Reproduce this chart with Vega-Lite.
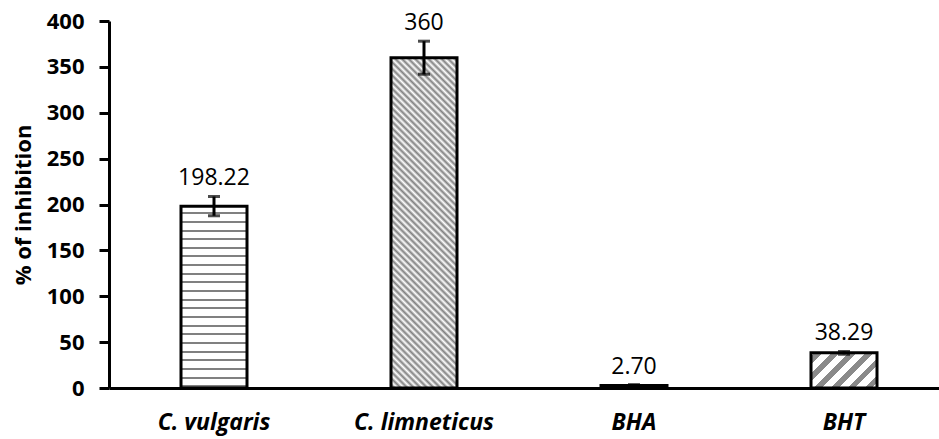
{
  "$schema": "https://vega.github.io/schema/vega-lite/v6.json",
  "width": 830,
  "height": 367,
  "autosize": {"type": "none"},
  "padding": {"left": 109, "top": 21, "right": 0, "bottom": 51},
  "background": "white",
  "config": {"view": {"stroke": null}},
  "data": {
    "values": [
      {"cat": "C. vulgaris", "value": 198.22, "err": 10.5, "hi": 208.72, "label": "198.22"},
      {"cat": "C. limneticus", "value": 360, "err": 18, "hi": 378, "label": "360"},
      {"cat": "BHA", "value": 2.7, "err": 1, "hi": 3.7, "label": "2.70"},
      {"cat": "BHT", "value": 38.29, "err": 1.5, "hi": 39.79, "label": "38.29"}
    ]
  },
  "encoding": {
    "x": {
      "field": "cat", "type": "nominal", "sort": null, "title": null,
      "scale": {"range": [0, 840], "paddingInner": 0, "paddingOuter": 0},
      "axis": {
        "ticks": false, "domainColor": "black", "domainWidth": 3,
        "labelFont": "Open Sans", "labelFontSize": 23, "labelFontWeight": "bold",
        "labelFontStyle": "italic", "labelColor": "black", "labelPadding": 23, "labelAngle": 0
      }
    },
    "y": {
      "field": "value", "type": "quantitative", "title": "% of inhibition",
      "scale": {"domain": [0, 400], "nice": false},
      "axis": {
        "values": [0, 50, 100, 150, 200, 250, 300, 350, 400],
        "grid": false, "domainColor": "black", "domainWidth": 3,
        "tickColor": "black", "tickWidth": 3, "tickSize": 10,
        "labelFont": "Open Sans", "labelFontSize": 22, "labelFontWeight": "bold",
        "labelColor": "black", "labelPadding": 15,
        "titleFont": "Open Sans", "titleFontSize": 22, "titleFontWeight": "bold",
        "titleColor": "black", "titlePadding": 11
      }
    }
  },
  "layer": [
    {
      "transform": [{"filter": "datum.cat === 'C. vulgaris'"}],
      "mark": {
        "type": "bar", "size": 66, "stroke": "black", "strokeWidth": 3,
        "fill": {
          "gradient": "linear", "x1": 0, "y1": 0, "x2": 0, "y2": 1,
          "stops": [
            {"offset": 0, "color": "#ffffff"},
            {"offset": 0.0333, "color": "#ffffff"}, {"offset": 0.0333, "color": "#808080"}, {"offset": 0.0443, "color": "#808080"}, {"offset": 0.0443, "color": "#ffffff"},
            {"offset": 0.0810, "color": "#ffffff"}, {"offset": 0.0810, "color": "#808080"}, {"offset": 0.0920, "color": "#808080"}, {"offset": 0.0920, "color": "#ffffff"},
            {"offset": 0.1286, "color": "#ffffff"}, {"offset": 0.1286, "color": "#808080"}, {"offset": 0.1396, "color": "#808080"}, {"offset": 0.1396, "color": "#ffffff"},
            {"offset": 0.1762, "color": "#ffffff"}, {"offset": 0.1762, "color": "#808080"}, {"offset": 0.1872, "color": "#808080"}, {"offset": 0.1872, "color": "#ffffff"},
            {"offset": 0.2238, "color": "#ffffff"}, {"offset": 0.2238, "color": "#808080"}, {"offset": 0.2348, "color": "#808080"}, {"offset": 0.2348, "color": "#ffffff"},
            {"offset": 0.2714, "color": "#ffffff"}, {"offset": 0.2714, "color": "#808080"}, {"offset": 0.2824, "color": "#808080"}, {"offset": 0.2824, "color": "#ffffff"},
            {"offset": 0.3190, "color": "#ffffff"}, {"offset": 0.3190, "color": "#808080"}, {"offset": 0.3300, "color": "#808080"}, {"offset": 0.3300, "color": "#ffffff"},
            {"offset": 0.3667, "color": "#ffffff"}, {"offset": 0.3667, "color": "#808080"}, {"offset": 0.3777, "color": "#808080"}, {"offset": 0.3777, "color": "#ffffff"},
            {"offset": 0.4143, "color": "#ffffff"}, {"offset": 0.4143, "color": "#808080"}, {"offset": 0.4253, "color": "#808080"}, {"offset": 0.4253, "color": "#ffffff"},
            {"offset": 0.4619, "color": "#ffffff"}, {"offset": 0.4619, "color": "#808080"}, {"offset": 0.4729, "color": "#808080"}, {"offset": 0.4729, "color": "#ffffff"},
            {"offset": 0.5095, "color": "#ffffff"}, {"offset": 0.5095, "color": "#808080"}, {"offset": 0.5205, "color": "#808080"}, {"offset": 0.5205, "color": "#ffffff"},
            {"offset": 0.5571, "color": "#ffffff"}, {"offset": 0.5571, "color": "#808080"}, {"offset": 0.5681, "color": "#808080"}, {"offset": 0.5681, "color": "#ffffff"},
            {"offset": 0.6048, "color": "#ffffff"}, {"offset": 0.6048, "color": "#808080"}, {"offset": 0.6158, "color": "#808080"}, {"offset": 0.6158, "color": "#ffffff"},
            {"offset": 0.6524, "color": "#ffffff"}, {"offset": 0.6524, "color": "#808080"}, {"offset": 0.6634, "color": "#808080"}, {"offset": 0.6634, "color": "#ffffff"},
            {"offset": 0.7000, "color": "#ffffff"}, {"offset": 0.7000, "color": "#808080"}, {"offset": 0.7110, "color": "#808080"}, {"offset": 0.7110, "color": "#ffffff"},
            {"offset": 0.7476, "color": "#ffffff"}, {"offset": 0.7476, "color": "#808080"}, {"offset": 0.7586, "color": "#808080"}, {"offset": 0.7586, "color": "#ffffff"},
            {"offset": 0.7952, "color": "#ffffff"}, {"offset": 0.7952, "color": "#808080"}, {"offset": 0.8062, "color": "#808080"}, {"offset": 0.8062, "color": "#ffffff"},
            {"offset": 0.8429, "color": "#ffffff"}, {"offset": 0.8429, "color": "#808080"}, {"offset": 0.8539, "color": "#808080"}, {"offset": 0.8539, "color": "#ffffff"},
            {"offset": 0.8905, "color": "#ffffff"}, {"offset": 0.8905, "color": "#808080"}, {"offset": 0.9015, "color": "#808080"}, {"offset": 0.9015, "color": "#ffffff"},
            {"offset": 0.9381, "color": "#ffffff"}, {"offset": 0.9381, "color": "#808080"}, {"offset": 0.9491, "color": "#808080"}, {"offset": 0.9491, "color": "#ffffff"},
            {"offset": 0.9857, "color": "#ffffff"}, {"offset": 0.9857, "color": "#808080"}, {"offset": 0.9967, "color": "#808080"}, {"offset": 0.9967, "color": "#ffffff"},
            {"offset": 1, "color": "#ffffff"}
          ]
        }
      }
    },
    {
      "transform": [{"filter": "datum.cat === 'C. limneticus'"}],
      "mark": {
        "type": "bar", "size": 66, "stroke": "black", "strokeWidth": 3,
        "fill": {
          "gradient": "linear", "x1": 0, "y1": 1, "x2": 0.2305, "y2": -0.1537,
          "stops": [
            {"offset": 0, "color": "#ffffff"}, {"offset": 0.0083, "color": "#808080"}, {"offset": 0.0167, "color": "#ffffff"}, {"offset": 0.025, "color": "#808080"},
            {"offset": 0.0333, "color": "#ffffff"}, {"offset": 0.0417, "color": "#808080"}, {"offset": 0.05, "color": "#ffffff"}, {"offset": 0.0583, "color": "#808080"},
            {"offset": 0.0667, "color": "#ffffff"}, {"offset": 0.075, "color": "#808080"}, {"offset": 0.0833, "color": "#ffffff"}, {"offset": 0.0917, "color": "#808080"},
            {"offset": 0.1, "color": "#ffffff"}, {"offset": 0.1083, "color": "#808080"}, {"offset": 0.1167, "color": "#ffffff"}, {"offset": 0.125, "color": "#808080"},
            {"offset": 0.1333, "color": "#ffffff"}, {"offset": 0.1417, "color": "#808080"}, {"offset": 0.15, "color": "#ffffff"}, {"offset": 0.1583, "color": "#808080"},
            {"offset": 0.1667, "color": "#ffffff"}, {"offset": 0.175, "color": "#808080"}, {"offset": 0.1833, "color": "#ffffff"}, {"offset": 0.1917, "color": "#808080"},
            {"offset": 0.2, "color": "#ffffff"}, {"offset": 0.2083, "color": "#808080"}, {"offset": 0.2167, "color": "#ffffff"}, {"offset": 0.225, "color": "#808080"},
            {"offset": 0.2333, "color": "#ffffff"}, {"offset": 0.2417, "color": "#808080"}, {"offset": 0.25, "color": "#ffffff"}, {"offset": 0.2583, "color": "#808080"},
            {"offset": 0.2667, "color": "#ffffff"}, {"offset": 0.275, "color": "#808080"}, {"offset": 0.2833, "color": "#ffffff"}, {"offset": 0.2917, "color": "#808080"},
            {"offset": 0.3, "color": "#ffffff"}, {"offset": 0.3083, "color": "#808080"}, {"offset": 0.3167, "color": "#ffffff"}, {"offset": 0.325, "color": "#808080"},
            {"offset": 0.3333, "color": "#ffffff"}, {"offset": 0.3417, "color": "#808080"}, {"offset": 0.35, "color": "#ffffff"}, {"offset": 0.3583, "color": "#808080"},
            {"offset": 0.3667, "color": "#ffffff"}, {"offset": 0.375, "color": "#808080"}, {"offset": 0.3833, "color": "#ffffff"}, {"offset": 0.3917, "color": "#808080"},
            {"offset": 0.4, "color": "#ffffff"}, {"offset": 0.4083, "color": "#808080"}, {"offset": 0.4167, "color": "#ffffff"}, {"offset": 0.425, "color": "#808080"},
            {"offset": 0.4333, "color": "#ffffff"}, {"offset": 0.4417, "color": "#808080"}, {"offset": 0.45, "color": "#ffffff"}, {"offset": 0.4583, "color": "#808080"},
            {"offset": 0.4667, "color": "#ffffff"}, {"offset": 0.475, "color": "#808080"}, {"offset": 0.4833, "color": "#ffffff"}, {"offset": 0.4917, "color": "#808080"},
            {"offset": 0.5, "color": "#ffffff"}, {"offset": 0.5083, "color": "#808080"}, {"offset": 0.5167, "color": "#ffffff"}, {"offset": 0.525, "color": "#808080"},
            {"offset": 0.5333, "color": "#ffffff"}, {"offset": 0.5417, "color": "#808080"}, {"offset": 0.55, "color": "#ffffff"}, {"offset": 0.5583, "color": "#808080"},
            {"offset": 0.5667, "color": "#ffffff"}, {"offset": 0.575, "color": "#808080"}, {"offset": 0.5833, "color": "#ffffff"}, {"offset": 0.5917, "color": "#808080"},
            {"offset": 0.6, "color": "#ffffff"}, {"offset": 0.6083, "color": "#808080"}, {"offset": 0.6167, "color": "#ffffff"}, {"offset": 0.625, "color": "#808080"},
            {"offset": 0.6333, "color": "#ffffff"}, {"offset": 0.6417, "color": "#808080"}, {"offset": 0.65, "color": "#ffffff"}, {"offset": 0.6583, "color": "#808080"},
            {"offset": 0.6667, "color": "#ffffff"}, {"offset": 0.675, "color": "#808080"}, {"offset": 0.6833, "color": "#ffffff"}, {"offset": 0.6917, "color": "#808080"},
            {"offset": 0.7, "color": "#ffffff"}, {"offset": 0.7083, "color": "#808080"}, {"offset": 0.7167, "color": "#ffffff"}, {"offset": 0.725, "color": "#808080"},
            {"offset": 0.7333, "color": "#ffffff"}, {"offset": 0.7417, "color": "#808080"}, {"offset": 0.75, "color": "#ffffff"}, {"offset": 0.7583, "color": "#808080"},
            {"offset": 0.7667, "color": "#ffffff"}, {"offset": 0.775, "color": "#808080"}, {"offset": 0.7833, "color": "#ffffff"}, {"offset": 0.7917, "color": "#808080"},
            {"offset": 0.8, "color": "#ffffff"}, {"offset": 0.8083, "color": "#808080"}, {"offset": 0.8167, "color": "#ffffff"}, {"offset": 0.825, "color": "#808080"},
            {"offset": 0.8333, "color": "#ffffff"}, {"offset": 0.8417, "color": "#808080"}, {"offset": 0.85, "color": "#ffffff"}, {"offset": 0.8583, "color": "#808080"},
            {"offset": 0.8667, "color": "#ffffff"}, {"offset": 0.875, "color": "#808080"}, {"offset": 0.8833, "color": "#ffffff"}, {"offset": 0.8917, "color": "#808080"},
            {"offset": 0.9, "color": "#ffffff"}, {"offset": 0.9083, "color": "#808080"}, {"offset": 0.9167, "color": "#ffffff"}, {"offset": 0.925, "color": "#808080"},
            {"offset": 0.9333, "color": "#ffffff"}, {"offset": 0.9417, "color": "#808080"}, {"offset": 0.95, "color": "#ffffff"}, {"offset": 0.9583, "color": "#808080"},
            {"offset": 0.9667, "color": "#ffffff"}, {"offset": 0.975, "color": "#808080"}, {"offset": 0.9833, "color": "#ffffff"}, {"offset": 0.9917, "color": "#808080"},
            {"offset": 1, "color": "#ffffff"}
          ]
        }
      }
    },
    {
      "transform": [{"filter": "datum.cat === 'BHA'"}],
      "mark": {"type": "bar", "size": 66, "stroke": "black", "strokeWidth": 3, "fill": "#ffffff"}
    },
    {
      "transform": [{"filter": "datum.cat === 'BHT'"}],
      "mark": {
        "type": "bar", "size": 66, "stroke": "black", "strokeWidth": 3,
        "fill": {
          "gradient": "linear", "x1": 0, "y1": 0, "x2": 1.194, "y2": 0.635,
          "stops": [
            {"offset": 0, "color": "#ffffff"},
            {"offset": 0.04, "color": "#ffffff"}, {"offset": 0.04, "color": "#8a8a8a"}, {"offset": 0.115, "color": "#8a8a8a"}, {"offset": 0.115, "color": "#ffffff"},
            {"offset": 0.2067, "color": "#ffffff"}, {"offset": 0.2067, "color": "#8a8a8a"}, {"offset": 0.2817, "color": "#8a8a8a"}, {"offset": 0.2817, "color": "#ffffff"},
            {"offset": 0.3733, "color": "#ffffff"}, {"offset": 0.3733, "color": "#8a8a8a"}, {"offset": 0.4483, "color": "#8a8a8a"}, {"offset": 0.4483, "color": "#ffffff"},
            {"offset": 0.54, "color": "#ffffff"}, {"offset": 0.54, "color": "#8a8a8a"}, {"offset": 0.615, "color": "#8a8a8a"}, {"offset": 0.615, "color": "#ffffff"},
            {"offset": 0.7067, "color": "#ffffff"}, {"offset": 0.7067, "color": "#8a8a8a"}, {"offset": 0.7817, "color": "#8a8a8a"}, {"offset": 0.7817, "color": "#ffffff"},
            {"offset": 0.8733, "color": "#ffffff"}, {"offset": 0.8733, "color": "#8a8a8a"}, {"offset": 0.9483, "color": "#8a8a8a"}, {"offset": 0.9483, "color": "#ffffff"},
            {"offset": 1, "color": "#ffffff"}
          ]
        }
      }
    },
    {
      "mark": {"type": "errorbar", "ticks": true, "size": 12, "thickness": 3, "color": "black"},
      "encoding": {"yError": {"field": "err"}}
    },
    {
      "mark": {"type": "text", "font": "Open Sans", "fontSize": 23, "dy": -11, "baseline": "alphabetic", "color": "black"},
      "encoding": {
        "y": {"field": "hi", "type": "quantitative", "title": "% of inhibition"},
        "text": {"field": "label", "type": "nominal"}
      }
    }
  ]
}
